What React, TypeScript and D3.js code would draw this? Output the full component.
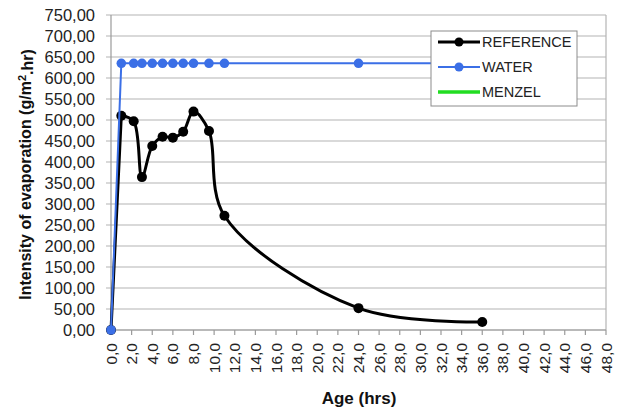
import React from "react";
import * as d3 from "d3";

// Evaporation intensity (g/m².hr) versus age (hrs)
const referenceHours = [0, 1, 2.2, 3, 4, 5, 6, 7, 8, 9.5, 11, 24, 36];
const referenceRate = [0, 510, 497, 364, 438, 460, 458, 472, 520, 474, 272, 52, 19];

const waterHours = [0, 1, 2.2, 3, 4, 5, 6, 7, 8, 9.5, 11, 24, 36];
const waterRate = [0, 635, 635, 635, 635, 635, 635, 635, 635, 635, 635, 635, 635];

const seriesNames = ["REFERENCE", "WATER", "MENZEL"];
const seriesColors = ["#000000", "#3b6fe6", "#22dd22"];

const yTicks = d3.range(0, 751, 50);
const xTicks = d3.range(0, 49, 2);

const W = 618;
const H = 411;
const plot = { left: 111, right: 606, top: 15, bottom: 330 };

const fmtY = (v: number) => v.toFixed(2).replace(".", ",");
const fmtX = (v: number) => v.toFixed(1).replace(".", ",");

export default function App() {
  const x = d3.scaleLinear().domain([0, 48]).range([plot.left, plot.right]);
  const y = d3.scaleLinear().domain([0, 750]).range([plot.bottom, plot.top]);

  const refPts: [number, number][] = referenceHours.map((h, i) => [x(h), y(referenceRate[i])]);
  const waterPts: [number, number][] = waterHours.map((h, i) => [x(h), y(waterRate[i])]);

  const smooth = d3.line().curve(d3.curveCatmullRom.alpha(0.5));
  const straight = d3.line();
  // the initial rise is drawn straight, the remainder smoothed
  const refPath = (straight(refPts.slice(0, 2)) ?? "") + (smooth(refPts.slice(1)) ?? "");

  const font = "'Liberation Sans', Arial, sans-serif";
  const legend = { x: 431, y: 31, w: 146, h: 75 };

  return (
    <svg width={W} height={H} style={{ position: "absolute", left: 0, top: 0, background: "#fff" }} fontFamily={font}>
      {/* horizontal gridlines with outward ticks */}
      {yTicks.map((t) => (
        <line key={"g" + t} x1={plot.left - 5} x2={plot.right} y1={y(t)} y2={y(t)} stroke="#b4b4b4" strokeWidth={1.2} />
      ))}
      {/* axes and right border */}
      <line x1={plot.left} x2={plot.left} y1={plot.top} y2={plot.bottom} stroke="#9a9a9a" strokeWidth={1.2} />
      <line x1={plot.right} x2={plot.right} y1={plot.top} y2={plot.bottom} stroke="#b4b4b4" strokeWidth={1.2} />
      <line x1={plot.left} x2={plot.right} y1={plot.bottom} y2={plot.bottom} stroke="#9a9a9a" strokeWidth={1.2} />
      {xTicks.map((t) => (
        <line key={"t" + t} x1={x(t)} x2={x(t)} y1={plot.bottom} y2={plot.bottom + 5} stroke="#9a9a9a" strokeWidth={1.2} />
      ))}

      {/* y tick labels */}
      {yTicks.map((t) => (
        <text key={"yl" + t} x={95} y={y(t)} dy="0.36em" textAnchor="end" fontSize={16.5} fill="#222">
          {fmtY(t)}
        </text>
      ))}
      {/* x tick labels, rotated */}
      {xTicks.map((t) => (
        <text
          key={"xl" + t}
          transform={`translate(${x(t)},${343}) rotate(-90)`}
          dy="0.36em"
          textAnchor="end"
          fontSize={15.5}
          fill="#222"
        >
          {fmtX(t)}
        </text>
      ))}

      {/* axis titles */}
      <text transform={`translate(25,${(plot.top + plot.bottom) / 2 + 2}) rotate(-90)`} textAnchor="middle" dy="0.36em" fontSize={16} fontWeight="bold" fill="#111">
        Intensity of evaporation (g/m
        <tspan dy="-0.45em" fontSize={11}>2</tspan>
        <tspan dy="0.45em">.hr)</tspan>
      </text>
      <text x={359} y={398} textAnchor="middle" dy="0.36em" fontSize={17} fontWeight="bold" fill="#111">
        Age (hrs)
      </text>

      {/* REFERENCE series */}
      <path d={refPath} fill="none" stroke={seriesColors[0]} strokeWidth={3} strokeLinejoin="round" />
      {refPts.map(([px, py], i) => (
        <circle key={"r" + i} cx={px} cy={py} r={5} fill={seriesColors[0]} />
      ))}
      {/* WATER series */}
      <path d={straight(waterPts) ?? ""} fill="none" stroke={seriesColors[1]} strokeWidth={2} />
      {waterPts.map(([px, py], i) => (
        <circle key={"w" + i} cx={px} cy={py} r={4.8} fill={seriesColors[1]} />
      ))}

      {/* legend */}
      <rect x={legend.x} y={legend.y} width={legend.w} height={legend.h} fill="#fff" stroke="#8c8c8c" strokeWidth={1} />
      {seriesNames.map((name, i) => {
        const ly = legend.y + 11 + i * 25;
        return (
          <g key={name}>
            <line x1={legend.x + 7} x2={legend.x + 49} y1={ly} y2={ly} stroke={seriesColors[i]} strokeWidth={i === 2 ? 3.5 : i === 0 ? 3 : 2} />
            {i < 2 && <circle cx={legend.x + 28} cy={ly} r={4.5} fill={seriesColors[i]} />}
            <text x={legend.x + 51} y={ly} dy="0.36em" fontSize={14.5} fill="#222">
              {name}
            </text>
          </g>
        );
      })}
    </svg>
  );
}
